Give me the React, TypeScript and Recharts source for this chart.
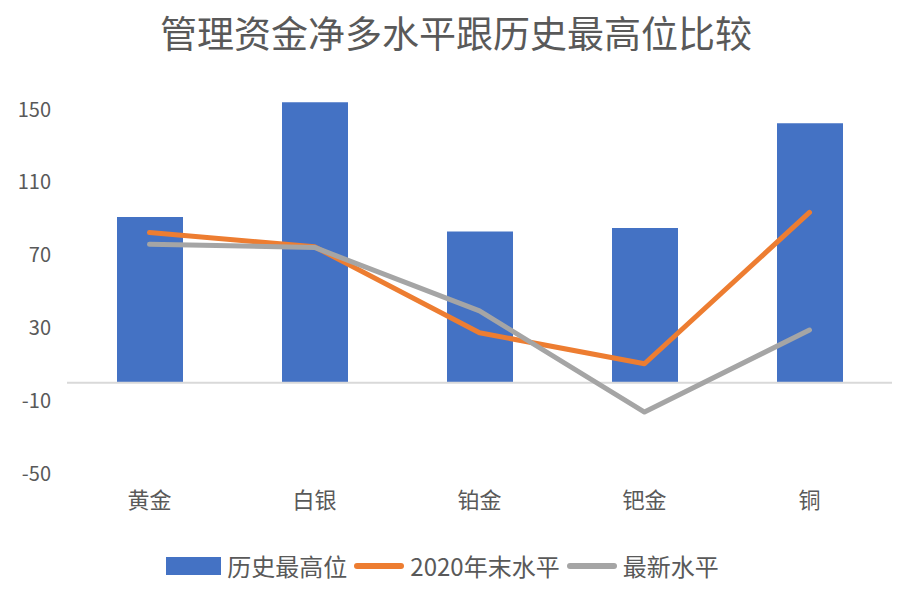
import React from 'react';
import {
  ComposedChart, Bar, Line, XAxis, YAxis, Legend, ReferenceLine
} from 'recharts';

// 品种
const categories = ['黄金', '白银', '铂金', '钯金', '铜'];
// 历史最高位
const historyHigh = [91, 154, 83, 85, 142.5];
// 2020年末水平
const end2020 = [82.5, 74.7, 27.5, 10.5, 93.5];
// 最新水平
const latest = [76, 74.3, 39.5, -16, 29];
const yTicks = [-50, -10, 30, 70, 110, 150];
const seriesOrder = ['历史最高位', '2020年末水平', '最新水平'];

const data = categories.map((name, i) => ({
  name,
  历史最高位: historyHigh[i],
  '2020年末水平': end2020[i],
  最新水平: latest[i],
}));

const TEXT = '#595959';
const FONT = '"Noto Sans CJK SC", "Noto Sans", sans-serif';

// custom legend: rect for the bar, thick rounded line for the lines
const renderLegend = (props: any) => {
  const items = [...(props.payload || [])].sort(
    (a: any, b: any) => seriesOrder.indexOf(a.value) - seriesOrder.indexOf(b.value)
  );
  return (
    <div style={{ display: 'flex', justifyContent: 'center', alignItems: 'center', fontFamily: FONT, fontSize: 24, color: TEXT }}>
      {items.map((entry: any, i: number) => (
        <div key={`leg-${i}`} style={{ display: 'flex', alignItems: 'center', marginRight: 7 }}>
          {entry.type === 'rect' ? (
            <div style={{ width: 55, height: 18, background: entry.color, marginRight: 6 }} />
          ) : (
            <div style={{ width: 50, height: 6, borderRadius: 3, background: entry.color, marginRight: 6 }} />
          )}
          <span>{entry.value}</span>
        </div>
      ))}
    </div>
  );
};

export default function App() {
  return (
    <div style={{ position: 'absolute', left: 0, top: 0, width: 912, height: 608, background: '#fff' }}>
      <div style={{
        position: 'absolute', top: 8, left: 0, width: 912, textAlign: 'center',
        fontFamily: FONT, fontSize: 37, color: TEXT, lineHeight: '48px'
      }}>
        管理资金净多水平跟历史最高位比较
      </div>
      <ComposedChart
        width={912}
        height={608}
        data={data}
        margin={{ top: 73, right: 20, left: 0, bottom: 30 }}
      >
        <XAxis
          dataKey="name"
          axisLine={false}
          tickLine={false}
          tickSize={0}
          tickMargin={18}
          height={74}
          tick={{ fill: TEXT, fontSize: 22, fontFamily: FONT }}
        />
        <YAxis
          type="number"
          domain={[-50, 170]}
          ticks={yTicks}
          allowDataOverflow
          axisLine={false}
          tickLine={false}
          tickSize={0}
          tickMargin={16}
          width={67}
          tick={{ fill: TEXT, fontSize: 20, fontFamily: FONT }}
        />
        <ReferenceLine y={0} stroke="#d9d9d9" strokeWidth={2} />
        <Bar dataKey="历史最高位" fill="#4472C4" barSize={66} isAnimationActive={false} legendType="rect" />
        <Line
          dataKey="2020年末水平"
          stroke="#ED7D31"
          strokeWidth={5}
          strokeLinecap="round"
          strokeLinejoin="round"
          dot={false}
          activeDot={false}
          isAnimationActive={false}
          legendType="line"
        />
        <Line
          dataKey="最新水平"
          stroke="#A5A5A5"
          strokeWidth={5}
          strokeLinecap="round"
          strokeLinejoin="round"
          dot={false}
          activeDot={false}
          isAnimationActive={false}
          legendType="line"
        />
        <Legend verticalAlign="bottom" height={30} content={renderLegend} />
      </ComposedChart>
    </div>
  );
}
